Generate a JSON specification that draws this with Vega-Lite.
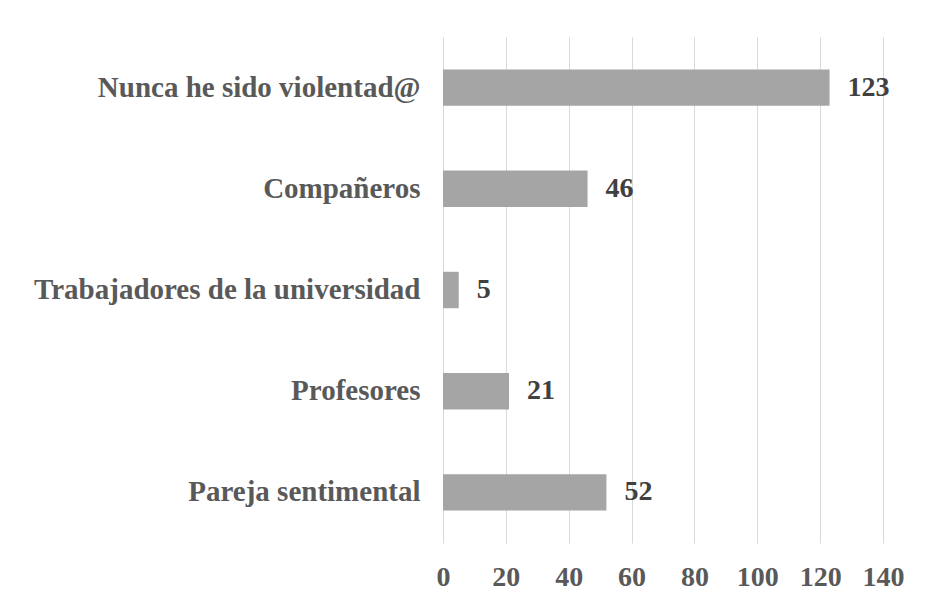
{
  "$schema": "https://vega.github.io/schema/vega-lite/v6.json",
  "width": 440,
  "height": 506,
  "autosize": {"type": "none"},
  "padding": {"left": 443, "top": 37, "right": 51, "bottom": 65},
  "background": "white",
  "config": {"view": {"stroke": null}, "font": "Liberation Serif"},
  "data": {"values": [
    {"cat": "Nunca he sido violentad@", "v": 123},
    {"cat": "Compañeros", "v": 46},
    {"cat": "Trabajadores de la universidad", "v": 5},
    {"cat": "Profesores", "v": 21},
    {"cat": "Pareja sentimental", "v": 52}
  ]},
  "encoding": {
    "y": {"field": "cat", "type": "nominal", "sort": null,
      "scale": {"paddingInner": 0.64, "paddingOuter": 0.32},
      "axis": {"title": null, "domain": false, "ticks": false, "labelFont": "Liberation Serif", "labelFontWeight": "bold", "labelFontSize": 29, "labelColor": "#595959", "labelPadding": 23, "labelLimit": 500}},
    "x": {"field": "v", "type": "quantitative",
      "scale": {"domain": [0, 140], "nice": false},
      "axis": {"title": null, "values": [0,20,40,60,80,100,120,140], "domain": false, "ticks": false, "grid": true, "gridColor": "#d9d9d9", "gridWidth": 1, "labelFont": "Liberation Serif", "labelFontWeight": "bold", "labelFontSize": 28, "labelColor": "#595959", "labelPadding": 20, "labelFlush": false}}
  },
  "layer": [
    {"mark": {"type": "bar", "color": "#a5a5a5"}},
    {"mark": {"type": "text", "align": "left", "baseline": "middle", "dx": 18, "font": "Liberation Serif", "fontWeight": "bold", "fontSize": 28, "color": "#404040"},
     "encoding": {"text": {"field": "v", "type": "quantitative"}}}
  ]
}
